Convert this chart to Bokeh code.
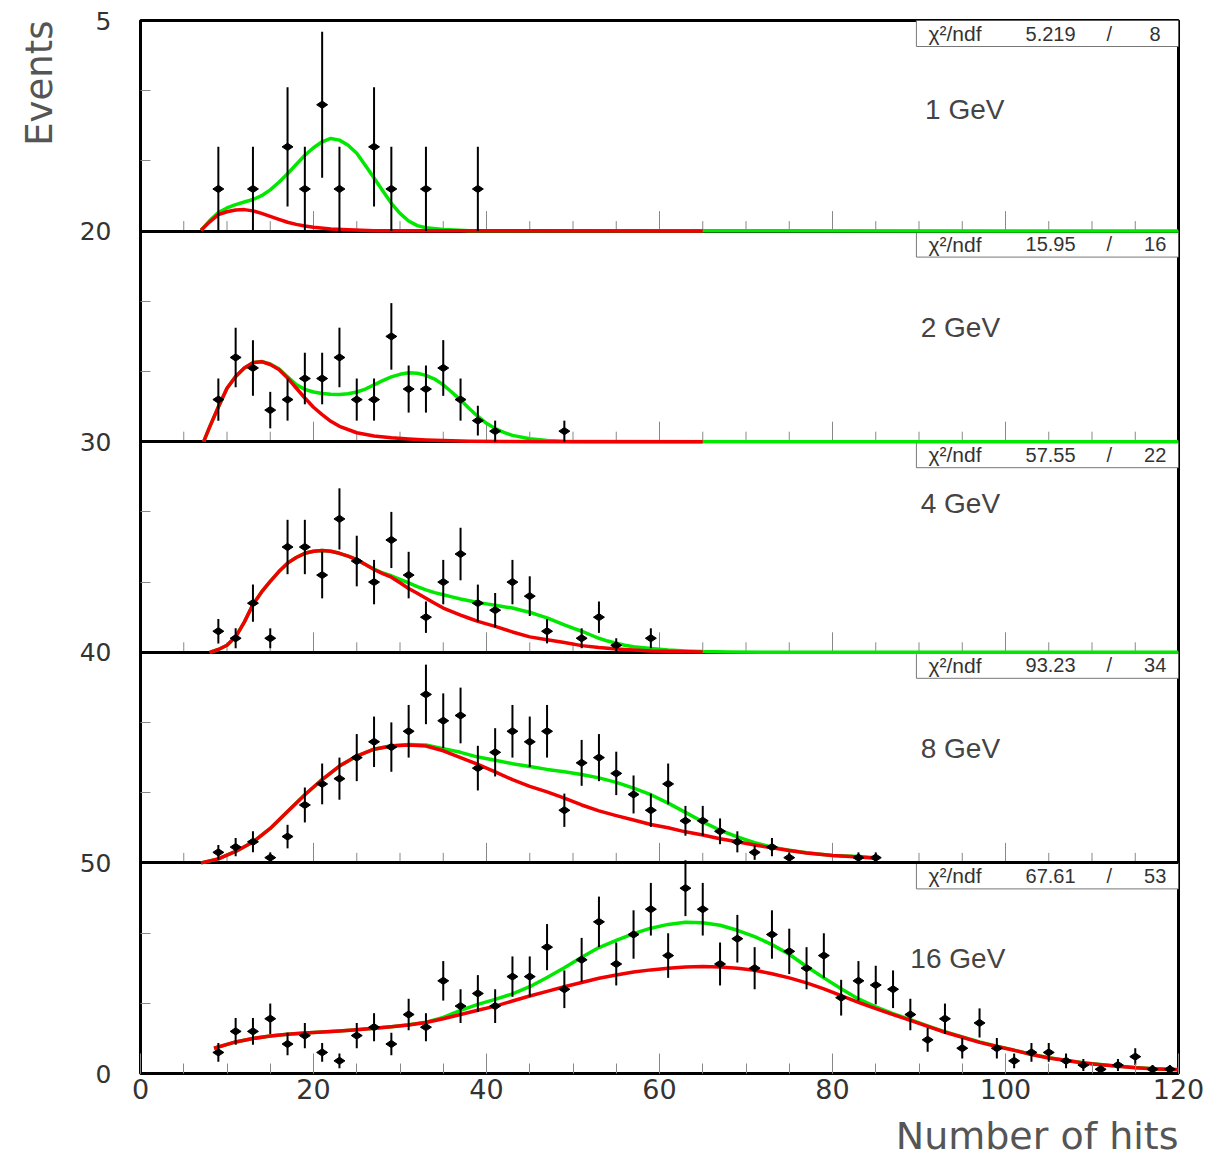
import numpy as np
from bokeh.plotting import figure
from bokeh.models import Range1d, LinearAxis, FixedTicker, Title
from bokeh.core.properties import value
from bokeh.embed import file_html
from bokeh.resources import INLINE

# ---------------- data ----------------
energies = ["1 GeV", "2 GeV", "4 GeV", "8 GeV", "16 GeV"]
panel_max = [5, 20, 30, 40, 50]
chi2_vals = ["5.219", "15.95", "57.55", "93.23", "67.61"]
ndf_vals = ["8", "16", "22", "34", "53"]
y_boundary_labels = ["0", "50", "40", "30", "20", "5"]   # bottom -> top
x_tick_values = [0, 20, 40, 60, 80, 100, 120]

hits_1gev = [9, 13, 17, 19, 21, 23, 27, 29, 33, 39]
counts_1gev = [1, 1, 2, 1, 3, 1, 2, 1, 1, 1]
total_1gev_x = [7, 8, 9, 10, 11, 12, 13, 14, 15, 16, 17, 18, 19, 20, 21, 22, 23, 24, 25, 26,
                27, 28, 29, 30, 31, 32, 33, 35, 38, 120]
total_1gev_y = [0.02, 0.25, 0.44, 0.55, 0.63, 0.69, 0.75, 0.84, 0.98, 1.16, 1.36, 1.58, 1.80,
                1.98, 2.12, 2.20, 2.16, 2.04, 1.85, 1.56, 1.26, 0.96, 0.66, 0.42, 0.24, 0.13,
                0.08, 0.04, 0.01, 0.0]
part_1gev_x = [7, 8, 9, 10, 11, 12, 13, 14, 15, 16, 17, 18, 19, 20, 22, 24, 27, 65]
part_1gev_y = [0.02, 0.22, 0.39, 0.46, 0.50, 0.51, 0.48, 0.42, 0.35, 0.28, 0.21, 0.16, 0.12,
               0.09, 0.05, 0.03, 0.01, 0.0]

hits_2gev = [9, 11, 13, 15, 17, 19, 21, 23, 25, 27, 29, 31, 33, 35, 37, 39, 41, 49]
counts_2gev = [4, 8, 7, 3, 4, 6, 6, 8, 4, 4, 10, 5, 5, 7, 4, 2, 1, 1]
total_2gev_x = [7.3, 8, 9, 10, 11, 12, 13, 14, 15, 16, 17, 18, 19, 20, 21, 22, 23, 24, 25, 26,
                27, 28, 29, 30, 31, 32, 33, 34, 35, 36, 37, 38, 39, 40, 41, 42, 43, 45, 47, 49,
                52, 120]
total_2gev_y = [0.0, 1.4, 3.3, 5.07, 6.2, 7.0, 7.5, 7.62, 7.38, 6.92, 6.17, 5.42, 4.97, 4.72,
                4.58, 4.5, 4.48, 4.55, 4.72, 5.0, 5.4, 5.8, 6.15, 6.4, 6.55, 6.5, 6.3, 5.95,
                5.4, 4.7, 3.95, 3.15, 2.4, 1.75, 1.25, 0.88, 0.6, 0.28, 0.12, 0.05, 0.01, 0.0]
part_2gev_x = [7.3, 8, 9, 10, 11, 12, 13, 14, 15, 16, 17, 18, 19, 20, 21, 22, 23, 25, 27, 29,
               31, 33, 35, 38, 42, 50, 65]
part_2gev_y = [0.0, 1.4, 3.3, 5.07, 6.2, 7.0, 7.5, 7.6, 7.33, 6.86, 6.06, 5.1, 4.15, 3.27,
               2.57, 1.94, 1.46, 0.85, 0.55, 0.38, 0.26, 0.17, 0.11, 0.05, 0.02, 0.0, 0.0]

hits_4gev = [9, 11, 13, 15, 17, 19, 21, 23, 25, 27, 29, 31, 33, 35, 37, 39, 41, 43, 45, 47,
             51, 53, 55, 59]
counts_4gev = [3, 2, 7, 2, 15, 15, 11, 19, 13, 10, 16, 11, 5, 10, 14, 7, 6, 10, 8, 3, 2, 5, 1, 2]
total_4gev_x = [8, 9, 10, 11, 12, 13, 14, 15, 16, 17, 18, 19, 20, 21, 22, 23, 24, 25, 26, 27,
                28, 29, 30, 31, 32, 33, 34, 35, 36, 37, 38, 39, 40, 41, 42, 43, 44, 45, 46, 47,
                48, 49, 50, 51, 52, 53, 54, 55, 56, 57, 59, 61, 63, 65, 68, 72, 120]
total_4gev_y = [0.0, 0.4, 1.0, 2.2, 4.3, 6.8, 8.6, 10.1, 11.5, 12.7, 13.5, 14.1, 14.4, 14.5,
                14.4, 14.1, 13.7, 13.2, 12.5, 11.85, 11.3, 10.9, 10.4, 9.9, 9.35, 8.9, 8.5,
                8.2, 7.9, 7.6, 7.35, 7.1, 6.9, 6.7, 6.5, 6.3, 6.0, 5.7, 5.3, 4.9, 4.4, 3.9,
                3.45, 3.0, 2.5, 2.0, 1.6, 1.3, 1.0, 0.8, 0.55, 0.33, 0.2, 0.1, 0.04, 0.01, 0.0]
part_4gev_x = [8, 9, 10, 11, 12, 13, 14, 15, 16, 17, 18, 19, 20, 21, 22, 23, 24, 25, 26, 27,
               28, 29, 30, 31, 32, 33, 34, 35, 36, 37, 38, 39, 41, 43, 45, 47, 49, 51, 53, 55,
               57, 59, 62, 65]
part_4gev_y = [0.0, 0.4, 1.0, 2.2, 4.3, 6.8, 8.6, 10.1, 11.5, 12.7, 13.5, 14.1, 14.4, 14.5,
               14.4, 14.1, 13.7, 13.2, 12.5, 11.8, 11.2, 10.7, 9.9, 9.1, 8.4, 7.7, 7.0, 6.3,
               5.8, 5.3, 4.85, 4.4, 3.7, 2.9, 2.2, 1.8, 1.4, 0.95, 0.67, 0.48, 0.33, 0.2,
               0.1, 0.04]

hits_8gev = [9, 11, 13, 15, 17, 19, 21, 23, 25, 27, 29, 31, 33, 35, 37, 39, 41, 43, 45, 47,
             49, 51, 53, 55, 57, 59, 61, 63, 65, 67, 69, 71, 73, 75, 83, 85]
counts_8gev = [2, 3, 4, 1, 5, 11, 15, 16, 20, 23, 22, 25, 32, 27, 28, 18, 21, 25, 23, 25,
               10, 19, 20, 17, 13, 10, 15, 8, 8, 6, 4, 2, 3, 1, 1, 1]
total_8gev_x = [7, 9, 11, 13, 15, 17, 19, 21, 23, 25, 27, 29, 31, 33, 35, 37, 39, 41, 43, 45,
                47, 49, 51, 53, 55, 57, 59, 61, 63, 65, 67, 69, 71, 73, 75, 77, 80, 83, 85]
total_8gev_y = [0.0, 0.77, 2.18, 3.97, 6.54, 9.74, 12.95, 15.83, 18.4, 20.3, 21.6, 22.25,
                22.5, 22.4, 21.7, 21.0, 20.1, 19.5, 18.85, 18.3, 17.76, 17.3, 16.8, 16.15,
                15.3, 14.2, 12.95, 11.35, 9.6, 7.8, 6.2, 4.94, 3.85, 3.0, 2.4, 1.92, 1.42,
                1.2, 0.96]
part_8gev_x = total_8gev_x
part_8gev_y = [0.0, 0.77, 2.18, 3.97, 6.54, 9.74, 12.95, 15.83, 18.4, 20.3, 21.6, 22.2, 22.4,
               22.2, 21.3, 20.0, 18.7, 17.3, 15.8, 14.55, 13.5, 12.3, 11.0, 9.87, 8.97, 8.14,
               7.3, 6.67, 5.9, 5.3, 4.6, 4.0, 3.4, 2.85, 2.35, 1.9, 1.4, 1.1, 0.9]

hits_16gev = list(range(9, 120, 2))
counts_16gev = [5, 10, 10, 13, 7, 9, 5, 3, 9, 11, 7, 14, 11, 22, 16, 19, 16, 23, 23, 30,
                20, 27, 36, 26, 33, 39, 28, 44, 39, 26, 32, 25, 33, 29, 25, 28, 18, 22, 21, 20,
                14, 8, 13, 6, 12, 6, 3, 5, 5, 3, 2, 1, 2, 4, 1, 1]
total_16gev_x = [8.5] + list(range(11, 120, 2)) + [120]
total_16gev_y = [6.0, 7.5, 8.3, 8.9, 9.3, 9.6, 9.85, 10.1, 10.4, 10.75, 11.1, 11.55, 12.2,
                 13.3, 15.0, 16.4, 17.6, 18.9, 20.6, 22.8, 25.1, 27.6, 29.9, 31.6, 33.2, 34.5,
                 35.4, 35.9, 35.8, 35.2, 34.0, 32.5, 30.6, 28.3, 25.4, 22.7, 20.1, 17.7, 15.8,
                 14.2, 12.8, 11.3, 9.9, 8.7, 7.5, 6.5, 5.55, 4.55, 3.75, 3.15, 2.55, 2.15,
                 1.75, 1.4, 1.15, 1.0, 0.95]
part_16gev_x = total_16gev_x
part_16gev_y = [6.0, 7.5, 8.3, 8.9, 9.3, 9.6, 9.85, 10.1, 10.4, 10.75, 11.1, 11.5, 12.1, 13.0,
                14.0, 15.0, 16.0, 17.2, 18.4, 19.5, 20.6, 21.6, 22.6, 23.4, 24.1, 24.6, 25.0,
                25.3, 25.4, 25.3, 25.0, 24.5, 23.7, 22.7, 21.5, 20.1, 18.5, 16.9, 15.4, 14.0,
                12.6, 11.2, 9.8, 8.6, 7.4, 6.4, 5.5, 4.5, 3.7, 3.1, 2.5, 2.1, 1.7, 1.35, 1.1,
                0.95, 0.9]

panels = [
    (hits_1gev, counts_1gev, total_1gev_x, total_1gev_y, part_1gev_x, part_1gev_y),
    (hits_2gev, counts_2gev, total_2gev_x, total_2gev_y, part_2gev_x, part_2gev_y),
    (hits_4gev, counts_4gev, total_4gev_x, total_4gev_y, part_4gev_x, part_4gev_y),
    (hits_8gev, counts_8gev, total_8gev_x, total_8gev_y, part_8gev_x, part_8gev_y),
    (hits_16gev, counts_16gev, total_16gev_x, total_16gev_y, part_16gev_x, part_16gev_y),
]

# ---------------- layout / style ----------------
N = 5
FRAME_H = 1053
PX = FRAME_H / N              # pixels per panel unit
GREEN = "#00e800"
RED = "#f00000"
TXT = "#333333"
TITLE_C = "#555555"

p = figure(width=1205, height=1169, x_range=Range1d(0, 120), y_range=Range1d(0, N),
           x_axis_type=None, y_axis_type=None, output_backend="svg", toolbar_location=None,
           min_border_left=140, min_border_right=27, min_border_top=20, min_border_bottom=96,
           background_fill_color="white", border_fill_color="white",
           outline_line_color="black", outline_line_width=3)
p.xgrid.visible = False
p.ygrid.visible = False

p.extra_y_ranges = {
    f"panel{i}": Range1d(start=-(N - 1 - i) * m, end=(i + 1) * m)
    for i, m in enumerate(panel_max)
}

# axes
minor_y = []
for k in range(N):
    minor_y += [k + 1 / 3, k + 2 / 3]
yax = LinearAxis(ticker=FixedTicker(ticks=list(range(N + 1)), minor_ticks=minor_y),
                 major_label_overrides={i: lab for i, lab in enumerate(y_boundary_labels)},
                 major_tick_in=0, major_tick_out=0, minor_tick_in=10, minor_tick_out=0,
                 minor_tick_line_color="#888888", axis_line_color=None,
                 major_label_standoff=29, major_label_text_font="DejaVu Sans",
                 major_label_text_font_size="25px", major_label_text_color=TXT)
p.add_layout(yax, "left")

xax = LinearAxis(ticker=FixedTicker(ticks=x_tick_values, minor_ticks=list(range(0, 121, 5))),
                 major_tick_in=20, major_tick_out=0, minor_tick_in=10, minor_tick_out=0,
                 major_tick_line_color="#888888", minor_tick_line_color="#888888",
                 axis_line_color=None, major_label_standoff=5,
                 major_label_text_font="DejaVu Sans", major_label_text_font_size="27px",
                 major_label_text_color=TXT)
p.add_layout(xax, "below")

p.add_layout(Title(text="Events", align="right", text_font="DejaVu Sans",
                   text_font_size="37px", text_font_style="normal", text_color=TITLE_C,
                   standoff=31), "left")
p.add_layout(Title(text="Number of hits", align="right", text_font="DejaVu Sans",
                   text_font_size="38px", text_font_style="normal", text_color=TITLE_C,
                   standoff=21), "below")

# chi2 boxes
box_tops = [N - i for i in range(N)]
p.quad(left=89.7, right=120, top=box_tops, bottom=[t - 26 / PX for t in box_tops],
       fill_color="white", line_color="#777777", line_width=1)

# ticks at the bottom of the upper panels
tick_x = list(range(5, 120, 5))
for b in range(1, N):
    p.segment(x0=tick_x, y0=[b] * len(tick_x), x1=tick_x,
              y1=[b + (20 if t % 20 == 0 else 10) / PX for t in tick_x],
              line_color="#888888", line_width=1)

# panel separators
p.hspan(y=list(range(1, N)), line_color="black", line_width=3)

for i, (hx, hc, tx, ty, px_, py_) in enumerate(panels):
    rn = f"panel{i}"
    p.line(tx, ty, y_range_name=rn, line_color=GREEN, line_width=3.5, line_join="round")
    p.line(px_, py_, y_range_name=rn, line_color=RED, line_width=3.5, line_join="round")
    hc_arr = np.array(hc, dtype=float)
    err = np.sqrt(hc_arr)
    p.segment(x0=hx, y0=hc_arr - err, x1=hx, y1=hc_arr + err, y_range_name=rn,
              line_color="black", line_width=2)
    p.scatter(hx, hc, y_range_name=rn, marker="diamond", size=11, angle=np.pi / 2,
              fill_color="black", line_color="black")

# chi2 texts
row_y = [t - 13 / PX for t in box_tops]
p.text(x=[91.1] * N, y=row_y, text=["χ²/ndf"] * N, text_font=value("Liberation Sans"),
       text_font_size=value("21px"), text_color=TXT, text_align="left", text_baseline="middle")
p.text(x=[108.1] * N, y=row_y, text=chi2_vals, text_font=value("Liberation Sans"),
       text_font_size=value("20px"), text_color=TXT, text_align="right", text_baseline="middle")
p.text(x=[112.0] * N, y=row_y, text=["/"] * N, text_font=value("Liberation Sans"),
       text_font_size=value("20px"), text_color=TXT, text_align="center", text_baseline="middle")
p.text(x=[117.3] * N, y=row_y, text=ndf_vals, text_font=value("Liberation Sans"),
       text_font_size=value("20px"), text_color=TXT, text_align="center", text_baseline="middle")

# energy labels
label_down_px = [89, 96, 62, 96, 96]
label_x = [90.7, 90.2, 90.2, 90.2, 89.0]
p.text(x=label_x, y=[N - i - d / PX for i, d in enumerate(label_down_px)], text=energies,
       text_font=value("Liberation Sans"), text_font_size=value("28px"), text_color="#444444",
       text_align="left", text_baseline="middle")

open("out.html", "w").write(file_html(p, INLINE))
